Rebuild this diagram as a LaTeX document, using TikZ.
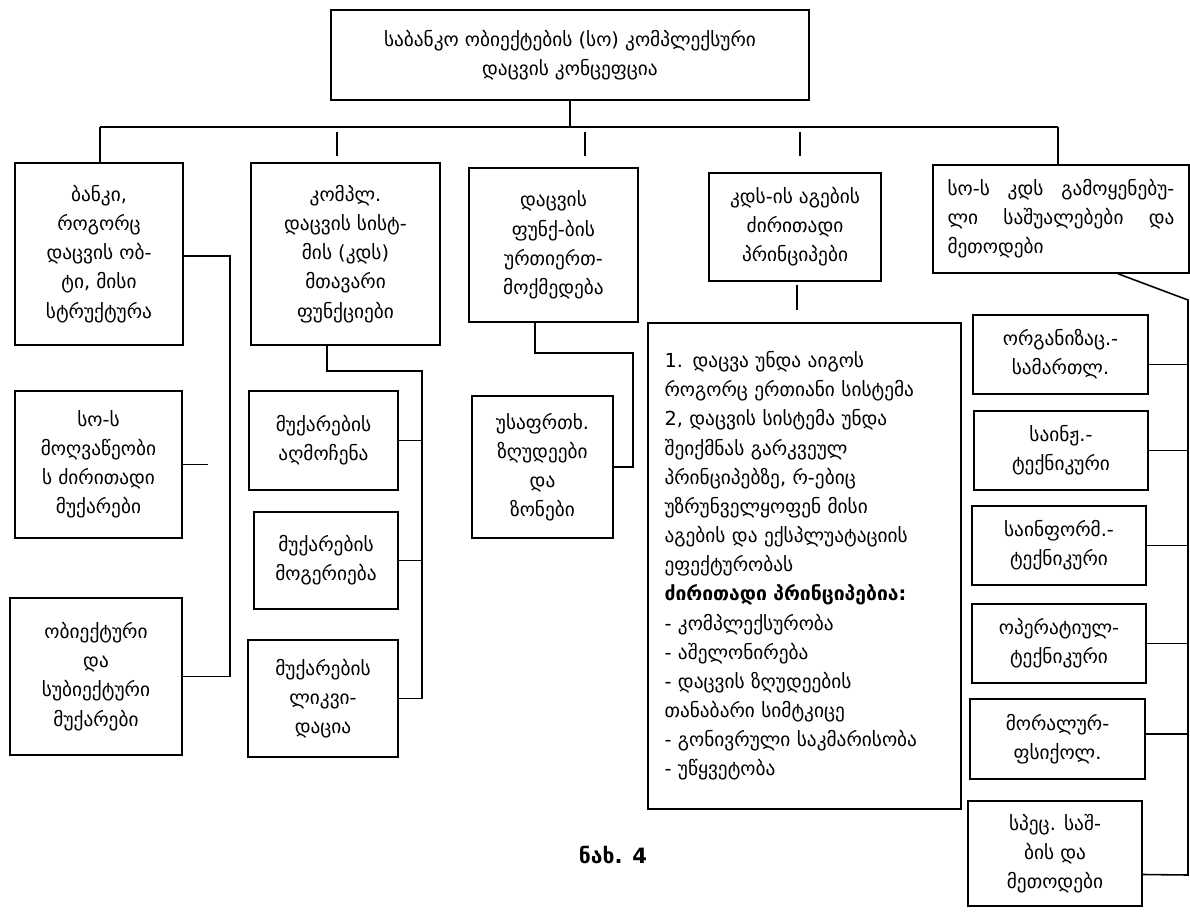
\documentclass[tikz,border=0pt]{standalone}
\usepackage{fontspec}
\setmainfont{DejaVu Sans}
\usetikzlibrary{positioning}
\tikzset{
    block/.style={rectangle, draw, line width=0.9pt, align=center, inner sep=2pt, font=\fontsize{11}{16.6}\selectfont},
    link/.style={draw, line width=0.9pt},
    caption/.style={font=\fontsize{12}{14}\selectfont\bfseries}
}

\begin{document}
\begin{tikzpicture}[x=0.02cm, y=-0.02cm]
    \useasboundingbox (0,0) rectangle (1190,919);
    % Nodes
    \node[block, minimum width=9.56cm, minimum height=1.8cm] (top) at (570,55) {საბანკო ობიექტების (სო) კომპლექსური\\ დაცვის კონცეფცია};
    \node[block, minimum width=3.36cm, minimum height=3.64cm] (bank) at (99,254) {ბანკი,\\ როგორც\\ დაცვის ობ-\\ ტი, მისი\\ სტრუქტურა};
    \node[block, minimum width=3.78cm, minimum height=3.64cm] (kds) at (345.5,254) {კომპლ.\\ დაცვის სისტ-\\ მის (კდს)\\ მთავარი\\ ფუნქციები};
    \node[block, minimum width=3.38cm, minimum height=3.08cm] (func) at (553.5,245) {დაცვის\\ ფუნქ-ბის\\ ურთიერთ-\\ მოქმედება};
    \node[block, minimum width=3.44cm, minimum height=2.16cm] (princ) at (795,227) {კდს-ის აგების\\ ძირითადი\\ პრინციპები};
    \node[block, minimum width=5.12cm, minimum height=2.16cm, text width=4.54cm, align=justify] (means) at (1061,219) {სო-ს კდს გამოყენებუ-\linebreak ლი საშუალებები და\linebreak მეთოდები};

    \node[block, minimum width=3.34cm, minimum height=2.94cm] (threat) at (98.5,464.5) {სო-ს\\ მოღვაწეობი\\ ს ძირითადი\\ მუქარები};
    \node[block, minimum width=3.44cm, minimum height=3.14cm] (objthr) at (96,676.5) {ობიექტური\\ და\\ სუბიექტური\\ მუქარები};

    \node[block, minimum width=2.98cm, minimum height=1.98cm] (detect) at (323.5,440.5) {მუქარების\\ აღმოჩენა};
    \node[block, minimum width=2.88cm, minimum height=1.94cm] (repel) at (326,560.5) {მუქარების\\ მოგერიება};
    \node[block, minimum width=3.0cm, minimum height=2.34cm] (liquid) at (323,698.5) {მუქარების\\ ლიკვი-\\ დაცია};

    \node[block, minimum width=2.82cm, minimum height=2.84cm] (zones) at (542.5,467) {უსაფრთხ.\\ ზღუდეები\\ და\\ ზონები};

    \node[block, minimum width=6.26cm, minimum height=9.72cm, text width=5.6cm, align=left] (list) at (804.5,566) {1. დაცვა უნდა აიგოს\\ როგორც ერთიანი სისტემა\\ 2, დაცვის სისტემა უნდა\\ შეიქმნას გარკვეულ\\ პრინციპებზე, რ-ებიც\\ უზრუნველყოფენ მისი\\ აგების და ექსპლუატაციის\\ ეფექტურობას\\ \textbf{ძირითადი პრინციპებია:}\\ - კომპლექსურობა\\ - აშელონირება\\ - დაცვის ზღუდეების\\ თანაბარი სიმტკიცე\\ - გონივრული საკმარისობა\\ - უწყვეტობა};

    \node[block, minimum width=3.5cm, minimum height=1.58cm] (org) at (1060.5,354.5) {ორგანიზაც.-\\ სამართლ.};
    \node[block, minimum width=3.48cm, minimum height=1.58cm] (eng) at (1061,450.5) {საინჟ.-\\ ტექნიკური};
    \node[block, minimum width=3.48cm, minimum height=1.58cm] (info) at (1059,545.5) {საინფორმ.-\\ ტექნიკური};
    \node[block, minimum width=3.48cm, minimum height=1.58cm] (oper) at (1059,643.5) {ოპერატიულ-\\ ტექნიკური};
    \node[block, minimum width=3.5cm, minimum height=1.6cm] (moral) at (1057.5,739) {მორალურ-\\ ფსიქოლ.};
    \node[block, minimum width=3.48cm, minimum height=2.1cm] (spec) at (1055,853.5) {სპეც. საშ-\\ ბის და\\ მეთოდები};

    \node[caption] (fig) at (613,855) {ნახ. 4};

    % trunk points
    \coordinate (busL) at (100,127);
    \coordinate (busR) at (1058,127);
    \coordinate (colA) at (230,256);
    \coordinate (colB) at (422,371);
    \coordinate (colC) at (633,353);
    \coordinate (colD) at (1188,300);

    % edges
    \draw[link] (top.south) -- (top.south |- busL);
    \draw[link] (busL) -- (busR);
    \draw[link] (busL) -- (bank.north -| busL);
    \draw[link] (busR) -- (means.north -| busR);
    \draw[link] (337,132) -- (337,156);
    \draw[link] (585,132) -- (585,156);
    \draw[link] (800,132) -- (800,156);

    \draw[link] (bank.east |- colA) -- (colA) |- (objthr.east);
    \draw[link] (threat.east) -- ++(25,0);

    \draw[link] (kds.south -| 327,0) -- (327,371) -- (colB) |- (liquid.east);
    \draw[link] (detect.east) -- (detect.east -| colB);
    \draw[link] (repel.east) -- (repel.east -| colB);

    \draw[link] (func.south -| 535,0) -- (535,353) -- (colC) |- (zones.east);

    \draw[link] (797,285) -- (797,310);

    \draw[link] (means.south -| 1118,0) -- (colD) -- (colD |- 0,875) -- ([yshift=-0.42cm]spec.east);
    \draw[link] ([yshift=-0.2cm]org.east) -- ([yshift=-0.2cm]org.east -| colD);
    \draw[link] (eng.east) -- (eng.east -| colD);
    \draw[link] (info.east) -- (info.east -| colD);
    \draw[link] (oper.east) -- (oper.east -| colD);
    \draw[link] ([yshift=0.1cm]moral.east) -- ([yshift=0.1cm]moral.east -| colD);
\end{tikzpicture}
\end{document}
